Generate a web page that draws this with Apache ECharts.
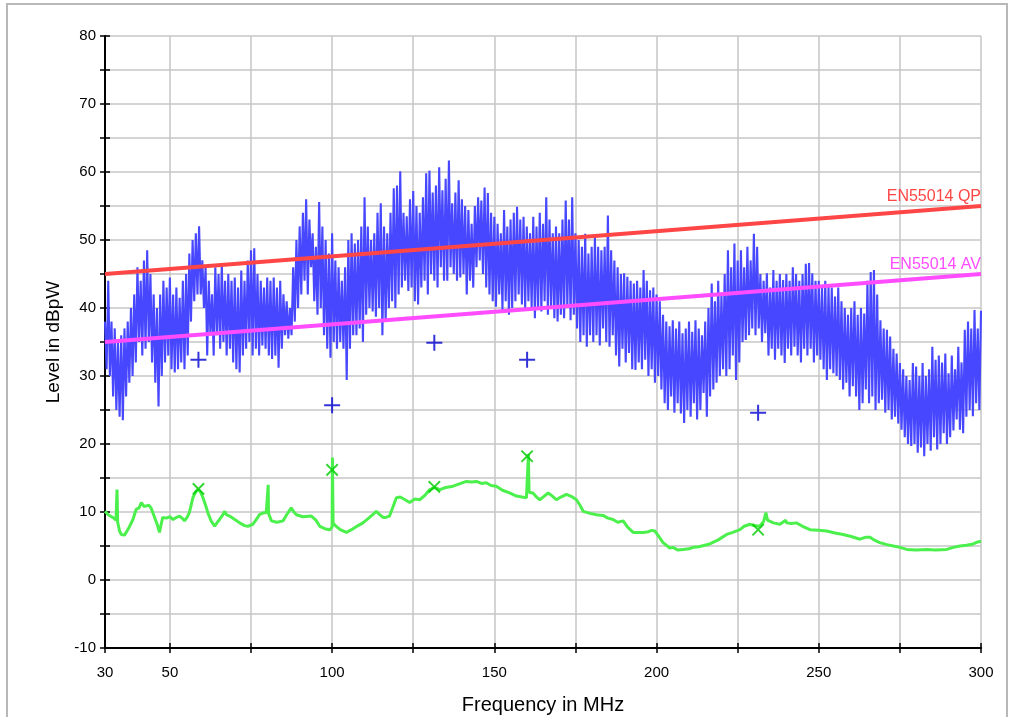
<!DOCTYPE html>
<html>
<head>
<meta charset="utf-8">
<script src="https://cdn.jsdelivr.net/npm/echarts@6/dist/echarts.min.js"></script>
<style>
html,body{margin:0;padding:0;background:#fff;}
#chart{width:1011px;height:717px;}
</style>
</head>
<body>
<div id="chart"></div>
<script>
// ---- axis ticks / labels ----
const xTicks = [30, 50, 75, 100, 125, 150, 175, 200, 225, 250, 275, 300];
const xLabels = [30, 50, 100, 150, 200, 250, 300];

// ---- limit lines (EN55014) ----
const qpFreq = [30, 300];
const qpLevel = [45, 55];
const avFreq = [30, 300];
const avLevel = [35, 45];

// ---- final measurement points ----
const finalFreq = [58.8, 100.0, 131.5, 160.1, 231.3];
const finalQP = [32.4, 25.7, 34.9, 32.4, 24.6];
const finalAV = [13.4, 16.2, 13.7, 18.2, 7.4];

// ---- peak (preview) trace, sampled every 0.5 MHz from 30 MHz ----
const traceStart = 30;
const traceStep = 0.5;
const peakTrace = [
  38, 31, 44, 30, 38, 27, 37, 25, 35, 24,
  36, 23.5, 37, 27, 38, 29, 40, 30, 42, 32,
  46, 35, 44, 33, 47, 34, 48.5, 35, 45, 32,
  42, 29, 40, 25.5, 42, 30, 44, 32, 43, 33,
  44.5, 31, 42, 30.5, 43, 31, 41.5, 32, 44, 31,
  45, 33, 48, 38, 50, 41, 51, 42, 52, 42,
  47, 40, 46, 33, 44, 36, 42, 33, 46, 36,
  45, 34, 46.5, 35, 44, 33, 45, 34, 44, 32,
  44.5, 31, 43, 30.5, 45.5, 33, 44, 34, 47, 35,
  48.5, 33, 48.8, 34, 45, 33, 44, 34.5, 43, 34,
  44.5, 33, 44, 32.5, 44.5, 33, 43, 31.2, 44, 34,
  42, 36, 41, 35.5, 40, 36, 46, 38, 50, 40,
  52, 42, 54, 44, 56, 42, 53, 46, 51, 41,
  49, 39, 55.6, 40, 52, 36, 50, 34, 48, 32.7,
  51, 35, 47, 34, 46, 35, 44, 34, 46, 29.4,
  50, 34, 51, 36, 49.5, 36, 50, 37, 52, 35,
  56.3, 39, 52, 40, 50, 39.5, 51, 38.7, 54, 40,
  55.4, 36, 52, 38, 51, 40, 54, 41, 57.6, 40,
  58, 42, 60.1, 43, 54, 44, 53.5, 42.5, 56, 43,
  57.2, 41, 55, 40.5, 54, 43, 56.3, 44, 59.8, 42,
  60.2, 45, 57, 44, 58, 43, 60.7, 46, 57.3, 44,
  59, 44, 61.7, 46, 55.4, 45, 57, 44, 58.8, 44.5,
  56, 45, 55, 42, 54.4, 44, 52.4, 43, 55, 46,
  56.3, 47, 55.8, 45, 57.7, 43, 56.9, 42, 54, 41,
  53.4, 40.2, 52.4, 42, 51, 39.7, 54.4, 41, 52, 39,
  53, 40, 54, 41, 54.9, 42, 53, 40.5, 53.4, 40,
  52, 41, 51, 40, 53.4, 38.5, 52, 40, 54, 39.5,
  52.4, 41, 56.3, 39, 53, 40, 51, 38.5, 52, 38,
  51, 39, 53, 38.5, 55.8, 40, 53, 38.2, 56.3, 39,
  51, 37, 50, 35, 49, 36, 50.9, 34.3, 48, 36,
  49, 35, 50.5, 36, 49, 34.5, 48.5, 37, 49, 35,
  53.6, 34.3, 48.5, 36, 47, 33, 46, 31.4, 45, 34,
  45.1, 32, 44.6, 33.4, 44, 31, 43.6, 30.9, 44, 32,
  43, 31, 45.6, 32.4, 44, 30, 42.6, 31, 43, 29,
  42, 30, 41, 28, 39, 26, 38, 25, 37.3, 27,
  38.2, 24.6, 37, 26, 38, 24.5, 36.3, 23.1, 37, 25,
  38, 24, 36.5, 26, 38.2, 23.6, 37, 25, 36, 27.5,
  38, 24, 40, 27, 43.6, 28, 41, 29, 44, 30,
  42, 31, 45, 30, 48.5, 31, 46, 33, 49.5, 29.4,
  47, 32, 48.5, 35, 46, 35.3, 49, 36, 47, 37,
  50.9, 36, 49, 37, 45, 35, 44, 36.3, 45.1, 33,
  43, 34, 45.6, 32.4, 44, 34, 45, 33, 44.1, 31.9,
  45, 34, 44, 33, 46, 34.3, 45, 33, 44, 32,
  45, 34, 46.5, 33, 46.6, 34, 45.1, 32, 44, 33,
  44, 32.4, 43, 31, 44, 29.4, 43.1, 31, 43, 30.4,
  41.7, 30, 43, 29.4, 41, 28, 40, 29, 39, 27,
  40, 28.5, 41, 27, 39, 25, 40, 26, 39.2, 28,
  44, 26, 45.3, 27, 45.6, 25, 42, 26, 38.2, 26.5,
  37, 24.6, 36.8, 25, 35.8, 23.6, 34, 24, 33.3, 23,
  31.9, 22.1, 31, 21, 30, 20, 29.4, 19.7, 31.9, 20,
  31.4, 18.7, 30, 19.5, 31.9, 18.2, 30, 20, 31, 19,
  34.3, 21, 32.4, 19.2, 33, 20, 32, 21.6, 33.3, 20,
  30.4, 21, 33, 22, 31, 23.6, 34.3, 22.1, 32, 21.6,
  36.8, 24, 38, 25, 37, 24.1, 39.7, 26, 37, 25,
  39.6
];

// ---- average (preview) trace as [MHz, dBpW] ----
const avgTrace = [
  [30,10.1],[31,9.6],[32.4,9.2],[33.4,8.8],[33.7,13.3],[33.9,8.5],[34.5,7.2],[35,6.7],[36,6.6],[36.5,7],
  [37.5,7.8],[38.6,8.9],[39.6,10.4],[40.5,10.6],[41.2,11.4],[42,10.8],[42.7,10.9],[43.5,11],[44.2,10.6],[45.3,9.2],
  [46.2,8],[46.8,7],[47.3,8.2],[47.8,9.2],[48.9,9.1],[50,9.3],[51,8.9],[52,9.2],[53,9.4],[54,9],
  [54.5,8.7],[55.3,9.2],[56,9.9],[57.1,12.1],[58,13],[58.6,13.3],[59.4,13],[60.2,12.1],[61,11],[61.7,9.9],
  [62.7,8.7],[63.8,7.9],[64.5,8.4],[65.3,8.9],[66.2,9.5],[66.9,10.1],[67.4,9.6],[68.4,9.4],[70,8.9],[71.5,8.4],
  [73,8],[74,7.9],[75.6,8.2],[76.5,8.8],[77.6,9.6],[79,9.9],[79.7,9.9],[80.2,9.8],[80.3,14],[80.4,9.8],
  [81.3,8.7],[83,8.5],[84.9,8.7],[86,9.6],[87.4,10.6],[88.2,10],[89,9.6],[91,9.3],[93.6,9.4],[95,8.8],
  [96.2,7.9],[98,7.5],[99.3,7.4],[100,7.8],[100.1,18],[100.3,8.4],[101,8],[102.5,7.4],[104.4,7],[106,7.4],
  [108,8],[109.5,8.4],[111,9],[112.5,9.6],[113.6,10.1],[114.5,9.7],[115.7,9.2],[116.5,9.2],[117.7,9.4],[118.8,10.8],
  [119.8,12.1],[121,12.2],[122.5,11.8],[123.9,11.4],[125.5,11.9],[127,11.8],[128.5,12.4],[130.1,13.3],[131.5,13.6],[133.2,13.3],
  [135,13.6],[137.3,13.8],[139,14.1],[141.4,14.5],[143,14.4],[144.5,14.5],[146,14.2],[147.5,14.3],[149,13.9],[150.6,13.8],
  [152.5,13.2],[154.7,12.8],[156.5,12.4],[158.5,12.2],[159.9,12.1],[160.4,12.3],[160.5,18.5],[160.7,12.9],[161.9,12.8],[163,12.2],
  [164,11.8],[165.3,12.3],[166.6,12.8],[168,12.3],[169.1,11.8],[170.5,12.2],[172.2,12.6],[173.7,12.3],[175.3,11.8],[176.4,11],
  [177.4,10.1],[179.5,9.8],[181.5,9.6],[183.5,9.5],[185,9.1],[186.6,8.9],[188,8.5],[189.7,8.7],[191,7.8],[192.8,7],
  [194.5,7],[195.9,7],[197.5,7.1],[198.5,7.3],[199.5,7.2],[201,6.2],[202,5.5],[204.1,4.7],[205.1,4.8],[206.5,4.4],
  [208.2,4.5],[210,4.6],[211.3,4.8],[213,4.9],[216.4,5.3],[219,5.9],[221.6,6.7],[223.5,7],[225.7,7.4],[227,7.9],
  [228.8,8.2],[230,8],[231.8,7.9],[233,8.6],[233.7,9.9],[234.2,8.8],[236,8.4],[238,8.2],[239.8,8.8],[240.1,8.4],
  [241.5,8.3],[243.1,8.4],[245,7.9],[247.3,7.4],[250,7.3],[252.4,7.2],[255,6.9],[257.5,6.7],[260,6.4],[262.7,6],
  [264.5,6.3],[265.8,6.3],[267,5.9],[268.8,5.5],[271,5.2],[273,5],[275,4.8],[277.1,4.5],[280,4.4],[283.2,4.5],
  [286,4.4],[289.4,4.5],[291.5,4.8],[293.5,5],[295.5,5.1],[297.6,5.3],[299,5.6],[300,5.7]
];

// ---- build ----
const peakData = peakTrace.map((v, i) => [traceStart + i * traceStep, v]);
const qpData = qpFreq.map((f, i) => [f, qpLevel[i]]);
const avData = avFreq.map((f, i) => [f, avLevel[i]]);
const finalQPData = finalFreq.map((f, i) => [f, finalQP[i]]);
const finalAVData = finalFreq.map((f, i) => [f, finalAV[i]]);

const FONT = 'Liberation Sans, Arial, Helvetica, sans-serif';
const plusPath = 'path://M7,0H9V7H16V9H9V16H7V9H0V7H7Z';
const gridLine = { show: true, lineStyle: { color: '#c6c6c6', width: 1.5 } };

const chart = echarts.init(document.getElementById('chart'), null, { renderer: 'canvas' });
chart.setOption({
  animation: false,
  backgroundColor: '#ffffff',
  graphic: [{
    type: 'rect', silent: true, z: -10,
    shape: { x: 7, y: 4, width: 1000, height: 730 },
    style: { fill: 'none', stroke: '#b8b8b8', lineWidth: 2 }
  }],
  grid: { left: 105, right: 30, top: 36, bottom: 69, containLabel: false, outerBoundsMode: 'none' },
  xAxis: [{
    type: 'value', min: 30, max: 300, position: 'bottom',
    axisLine: { show: true, onZero: false, lineStyle: { color: '#000', width: 2 } },
    axisTick: { show: true, length: 5, customValues: xTicks, lineStyle: { color: '#000', width: 1.5 } },
    axisLabel: { customValues: xLabels, color: '#000', fontSize: 15, fontFamily: FONT, margin: 17 },
    splitLine: gridLine,
    name: 'Frequency in MHz', nameLocation: 'middle', nameGap: 47,
    nameTextStyle: { color: '#000', fontSize: 20, fontFamily: FONT }
  }, {
    type: 'value', min: 30, max: 300, position: 'bottom',
    axisLine: { show: false, onZero: false },
    axisTick: { show: true, inside: true, length: 5, customValues: xTicks, lineStyle: { color: '#000', width: 1.5 } },
    axisLabel: { show: false }, splitLine: { show: false }
  }],
  yAxis: [{
    type: 'value', min: -10, max: 80, interval: 5, position: 'left',
    axisLine: { show: true, onZero: false, lineStyle: { color: '#000', width: 2 } },
    axisTick: { show: true, length: 5, lineStyle: { color: '#000', width: 1.5 } },
    axisLabel: { color: '#000', fontSize: 15, fontFamily: FONT, margin: 9,
      formatter: v => (v % 10 === 0 ? String(v) : '') },
    splitLine: gridLine,
    name: 'Level in dBpW', nameLocation: 'middle', nameGap: 40, nameRotate: 90,
    nameTextStyle: { color: '#000', fontSize: 19, fontFamily: FONT }
  }, {
    type: 'value', min: -10, max: 80, interval: 5, position: 'left',
    axisLine: { show: false, onZero: false },
    axisTick: { show: true, inside: true, length: 5, lineStyle: { color: '#000', width: 1.5 } },
    axisLabel: { show: false }, splitLine: { show: false }
  }],
  series: [
    {
      name: 'Peak', type: 'line', data: peakData, showSymbol: false, symbol: 'none',
      lineStyle: { color: '#4747ff', width: 2.1 }, z: 2, silent: true
    },
    {
      name: 'Average', type: 'line', data: avgTrace, showSymbol: false, symbol: 'none',
      lineStyle: { color: '#4cf04c', width: 3 }, z: 2, silent: true
    },
    {
      name: 'EN55014 QP', type: 'line', data: qpData, showSymbol: false, symbol: 'none',
      lineStyle: { color: '#ff4646', width: 3.8 }, z: 3, silent: true,
      markPoint: {
        silent: true, symbol: 'rect', symbolSize: [1, 1], itemStyle: { color: 'rgba(0,0,0,0)' },
        label: { show: true, position: 'top', align: 'right', distance: 1, formatter: 'EN55014 QP',
          color: '#ff4646', fontSize: 16, fontFamily: FONT },
        data: [{ coord: [qpFreq[1], qpLevel[1]] }]
      }
    },
    {
      name: 'EN55014 AV', type: 'line', data: avData, showSymbol: false, symbol: 'none',
      lineStyle: { color: '#ff4cff', width: 3.8 }, z: 3, silent: true,
      markPoint: {
        silent: true, symbol: 'rect', symbolSize: [1, 1], itemStyle: { color: 'rgba(0,0,0,0)' },
        label: { show: true, position: 'top', align: 'right', distance: 1, formatter: 'EN55014 AV',
          color: '#ff4cff', fontSize: 16, fontFamily: FONT },
        data: [{ coord: [avFreq[1], avLevel[1]] }]
      }
    },
    {
      name: 'Final QP', type: 'scatter', data: finalQPData, symbol: plusPath, symbolSize: 16,
      itemStyle: { color: '#0000d0' }, z: 5, silent: true
    },
    {
      name: 'Final AV', type: 'scatter', data: finalAVData, symbol: plusPath, symbolSize: 16, symbolRotate: 45,
      itemStyle: { color: '#00cc00' }, z: 5, silent: true
    }
  ]
});
</script>
</body>
</html>
